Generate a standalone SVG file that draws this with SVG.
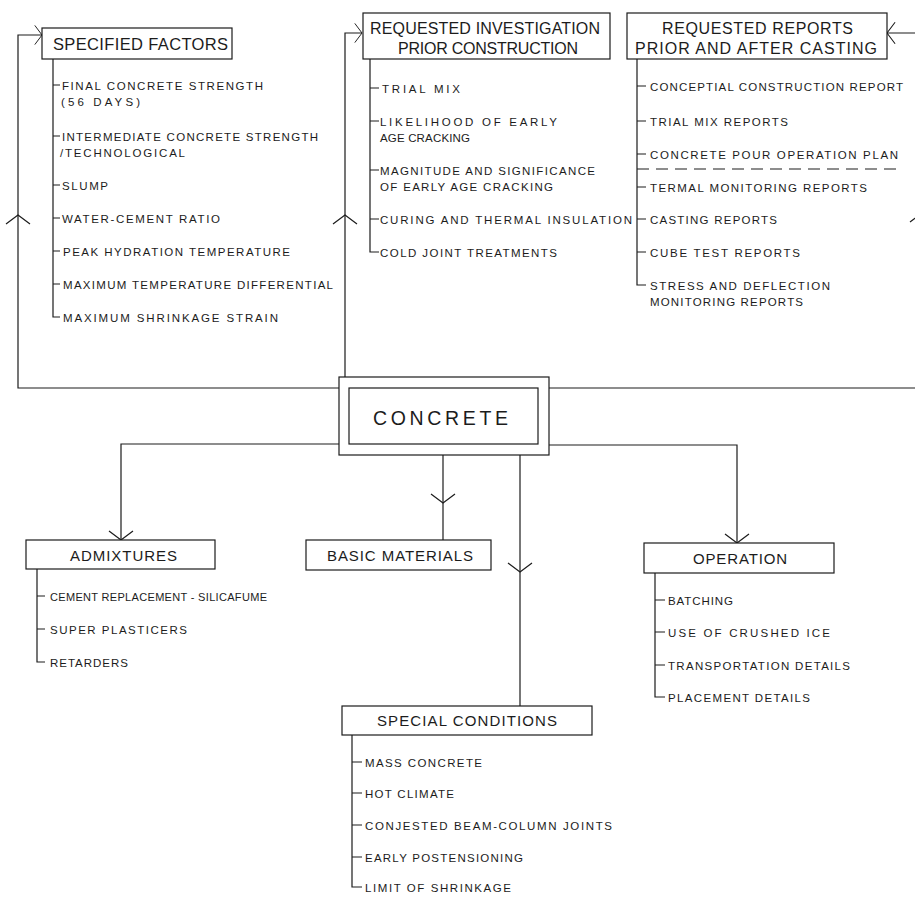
<svg xmlns="http://www.w3.org/2000/svg" width="915" height="900" viewBox="0 0 915 900">
<style>
.ln{fill:none;stroke:#1c1c1c;stroke-width:1.2}
.bx{fill:#fff;stroke:#1c1c1c;stroke-width:1.2}
.t{font-family:"Liberation Sans",Arial,sans-serif;fill:#1c1c1c}
.it{font-size:11.5px}
.hd{font-size:16px}
.lb{font-size:15px}
.big{font-size:19.5px}
.dash{stroke-dasharray:12 7}
</style>
<defs>
<path id="cv" class="ln" d="M-12,-9 L0,0 L12,-9"/>
</defs>
<rect width="915" height="900" fill="#fff"/>

<g id="connectors">
<path class="ln" d="M339,388 H18 V35 H42"/>
<use href="#cv" transform="translate(42,35) rotate(-90) scale(0.8)"/>
<use href="#cv" transform="translate(18,215) rotate(180)"/>
<path class="ln" d="M345,377 V33 H362"/>
<use href="#cv" transform="translate(362,33) rotate(-90) scale(0.8)"/>
<use href="#cv" transform="translate(345,215) rotate(180)"/>
<path class="ln" d="M549,388 H922 V33 H887"/>
<use href="#cv" transform="translate(887,33) rotate(90) scale(0.9)"/>
<use href="#cv" transform="translate(922,213) rotate(180)"/>
<path class="ln" d="M339,444 H121 V540"/>
<use href="#cv" transform="translate(121,540)"/>
<path class="ln" d="M443,455 V540"/>
<use href="#cv" transform="translate(443,503)"/>
<path class="ln" d="M520,455 V706"/>
<use href="#cv" transform="translate(520,572)"/>
<path class="ln" d="M549,445 H737 V543"/>
<use href="#cv" transform="translate(737,543)"/>
</g>

<g id="concrete">
<rect class="bx" x="339" y="377" width="210" height="78"/>
<rect class="bx" x="349" y="388" width="189" height="56"/>
<text class="t big" x="373" y="425" textLength="135" lengthAdjust="spacing">CONCRETE</text>
</g>

<g id="specified-factors">
<rect class="bx" x="42" y="28" width="190" height="31"/>
<text class="t hd" x="53" y="49.5" textLength="175" lengthAdjust="spacing" style="font-size:16.5px">SPECIFIED FACTORS</text>
<path class="ln" d="M53,59 V317 H60 M53,85 H60 M53,136 H60 M53,185 H60 M53,218 H60 M53,251 H60 M53,284 H60"/>
<text class="t it" x="62" y="89.5" textLength="201" lengthAdjust="spacing">FINAL CONCRETE STRENGTH</text>
<text class="t it" x="61" y="105.5" textLength="79" lengthAdjust="spacing">(56 DAYS)</text>
<text class="t it" x="62" y="140.5" textLength="256" lengthAdjust="spacing">INTERMEDIATE CONCRETE STRENGTH</text>
<text class="t it" x="60" y="156.5" textLength="125" lengthAdjust="spacing">/TECHNOLOGICAL</text>
<text class="t it" x="62" y="189.5" textLength="46" lengthAdjust="spacing">SLUMP</text>
<text class="t it" x="62" y="222.5" textLength="158" lengthAdjust="spacing">WATER-CEMENT RATIO</text>
<text class="t it" x="63" y="255.5" textLength="227" lengthAdjust="spacing">PEAK HYDRATION TEMPERATURE</text>
<text class="t it" x="63" y="288.5" textLength="270" lengthAdjust="spacing">MAXIMUM TEMPERATURE DIFFERENTIAL</text>
<text class="t it" x="63" y="321.5" textLength="215" lengthAdjust="spacing">MAXIMUM SHRINKAGE STRAIN</text>
</g>

<g id="requested-investigation">
<rect class="bx" x="363" y="13" width="247" height="46"/>
<text class="t hd" x="370" y="33.5" textLength="230" lengthAdjust="spacing">REQUESTED INVESTIGATION</text>
<text class="t hd" x="398" y="53.5" textLength="180" lengthAdjust="spacing">PRIOR CONSTRUCTION</text>
<path class="ln" d="M370,59 V252 H379 M370,88 H379 M370,121 H379 M370,170 H379 M370,219 H379"/>
<text class="t it" x="382" y="92.5" textLength="78" lengthAdjust="spacing">TRIAL MIX</text>
<text class="t it" x="380" y="125.5" textLength="177" lengthAdjust="spacing">LIKELIHOOD OF EARLY</text>
<text class="t it" x="380" y="141.5" textLength="90" lengthAdjust="spacing">AGE CRACKING</text>
<text class="t it" x="380" y="174.5" textLength="215" lengthAdjust="spacing">MAGNITUDE AND SIGNIFICANCE</text>
<text class="t it" x="380" y="190.5" textLength="173" lengthAdjust="spacing">OF EARLY AGE CRACKING</text>
<text class="t it" x="380" y="223.5" textLength="252" lengthAdjust="spacing">CURING AND THERMAL INSULATION</text>
<text class="t it" x="380" y="256.5" textLength="177" lengthAdjust="spacing">COLD JOINT TREATMENTS</text>
</g>

<g id="requested-reports">
<rect class="bx" x="627" y="13" width="260" height="46"/>
<text class="t hd" x="662" y="33.5" textLength="191" lengthAdjust="spacing">REQUESTED REPORTS</text>
<text class="t hd" x="635" y="53.5" textLength="242" lengthAdjust="spacing">PRIOR AND AFTER CASTING</text>
<path class="ln" d="M637,59 V285 H646 M637,86 H646 M637,121 H646 M637,154 H646 M637,187 H646 M637,219 H646 M637,252 H646"/>
<path class="ln dash" d="M637,169 H900"/>
<text class="t it" x="650" y="90.5" textLength="253" lengthAdjust="spacing">CONCEPTIAL CONSTRUCTION REPORT</text>
<text class="t it" x="650" y="125.5" textLength="138" lengthAdjust="spacing">TRIAL MIX REPORTS</text>
<text class="t it" x="650" y="158.5" textLength="248" lengthAdjust="spacing">CONCRETE POUR OPERATION PLAN</text>
<text class="t it" x="650" y="191.5" textLength="217" lengthAdjust="spacing">TERMAL MONITORING REPORTS</text>
<text class="t it" x="650" y="223.5" textLength="127" lengthAdjust="spacing">CASTING REPORTS</text>
<text class="t it" x="650" y="256.5" textLength="150" lengthAdjust="spacing">CUBE TEST REPORTS</text>
<text class="t it" x="650" y="289.5" textLength="180" lengthAdjust="spacing">STRESS AND DEFLECTION</text>
<text class="t it" x="650" y="305.5" textLength="153" lengthAdjust="spacing">MONITORING REPORTS</text>
</g>

<g id="admixtures">
<rect class="bx" x="26" y="540" width="189" height="29"/>
<text class="t lb" x="70" y="560.5" textLength="107" lengthAdjust="spacing">ADMIXTURES</text>
<path class="ln" d="M37,569 V662 H45 M37,596 H45 M37,629 H45"/>
<text class="t it" x="50" y="600.5" textLength="217" lengthAdjust="spacing" style="font-size:11px">CEMENT REPLACEMENT - SILICAFUME</text>
<text class="t it" x="50" y="633.5" textLength="137" lengthAdjust="spacing">SUPER PLASTICERS</text>
<text class="t it" x="50" y="666.5" textLength="78" lengthAdjust="spacing">RETARDERS</text>
</g>

<g id="basic-materials">
<rect class="bx" x="306" y="540" width="185" height="30"/>
<text class="t lb" x="327" y="560.5" textLength="146" lengthAdjust="spacing">BASIC MATERIALS</text>
</g>

<g id="operation">
<rect class="bx" x="644" y="543" width="190" height="30"/>
<text class="t lb" x="693" y="563.5" textLength="94" lengthAdjust="spacing">OPERATION</text>
<path class="ln" d="M655,573 V697 H665 M655,600 H665 M655,632 H665 M655,665 H665"/>
<text class="t it" x="668" y="604.5" textLength="65" lengthAdjust="spacing">BATCHING</text>
<text class="t it" x="668" y="636.5" textLength="162" lengthAdjust="spacing">USE OF CRUSHED ICE</text>
<text class="t it" x="668" y="669.5" textLength="182" lengthAdjust="spacing">TRANSPORTATION DETAILS</text>
<text class="t it" x="668" y="701.5" textLength="142" lengthAdjust="spacing">PLACEMENT DETAILS</text>
</g>

<g id="special-conditions">
<rect class="bx" x="342" y="706" width="250" height="29"/>
<text class="t lb" x="377" y="725.5" textLength="180" lengthAdjust="spacing">SPECIAL CONDITIONS</text>
<path class="ln" d="M352,735 V887 H362 M352,762 H362 M352,793 H362 M352,825 H362 M352,857 H362"/>
<text class="t it" x="365" y="766.5" textLength="117" lengthAdjust="spacing">MASS CONCRETE</text>
<text class="t it" x="365" y="797.5" textLength="89" lengthAdjust="spacing">HOT CLIMATE</text>
<text class="t it" x="365" y="829.5" textLength="247" lengthAdjust="spacing">CONJESTED BEAM-COLUMN JOINTS</text>
<text class="t it" x="365" y="861.5" textLength="158" lengthAdjust="spacing">EARLY POSTENSIONING</text>
<text class="t it" x="365" y="891.5" textLength="146" lengthAdjust="spacing">LIMIT OF SHRINKAGE</text>
</g>
</svg>
